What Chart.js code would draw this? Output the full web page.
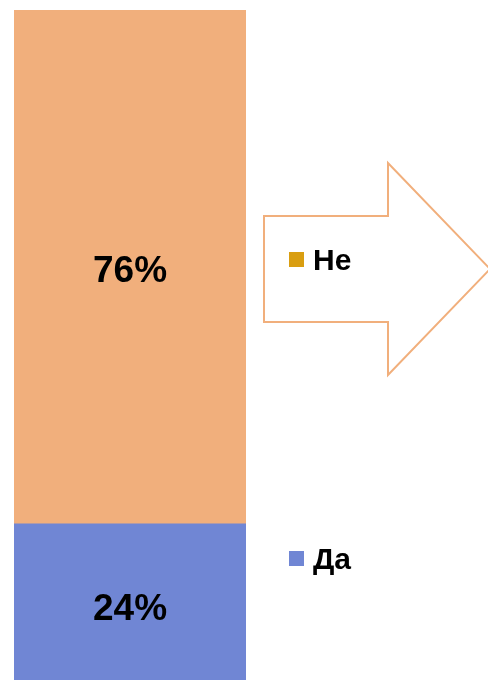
<!DOCTYPE html>
<html>
<head>
<meta charset="utf-8">
<script src="https://cdn.jsdelivr.net/npm/chart.js@4/dist/chart.umd.min.js"></script>
<style>
  html, body { margin: 0; padding: 0; background: #fff; overflow: hidden; }
  #wrap { width: 488px; height: 686px; }
</style>
</head>
<body>
<div id="wrap"><canvas id="chart" width="488" height="686"></canvas></div>
<script>
// ── Data ──
const categories = [''];
const seriesNames = ['Да', 'Не'];
const seriesValues = [[24], [76]];
const barColors = ['#7086d4', '#f1af7c'];
const legendColors = ['#7086d4', '#d99e11'];

const FONT = '"Liberation Sans", Arial, sans-serif';

/* ════════════════════════════
   ARROW + LABELS + LEGEND
════════════════════════════ */
const decorPlugin = {
  id: 'decor',
  beforeDatasetsDraw(chart) {
    const c = chart.ctx;
    // outlined arrow shape behind the legend entry
    c.save();
    c.beginPath();
    c.moveTo(264, 216);
    c.lineTo(388, 216);
    c.lineTo(388, 163);
    c.lineTo(490, 269);
    c.lineTo(388, 375);
    c.lineTo(388, 322);
    c.lineTo(264, 322);
    c.closePath();
    c.lineWidth = 2;
    c.strokeStyle = '#f1af7c';
    c.stroke();
    c.restore();
  },
  afterDatasetsDraw(chart) {
    const c = chart.ctx;
    c.save();
    // value labels in the middle of each segment
    c.font = 'bold 37px ' + FONT;
    c.fillStyle = '#000';
    c.textAlign = 'center';
    c.textBaseline = 'middle';
    chart.data.datasets.forEach((ds, i) => {
      chart.getDatasetMeta(i).data.forEach((bar, j) => {
        const p = bar.getProps(['x', 'y', 'base'], true);
        c.fillText(ds.data[j] + '%', p.x, (p.y + p.base) / 2 + 5);
      });
    });
    // legend entries
    const legendY = { 'Не': 260, 'Да': 559 };
    c.font = 'bold 30px ' + FONT;
    c.textAlign = 'left';
    seriesNames.forEach((name, i) => {
      const y = legendY[name];
      c.fillStyle = legendColors[i];
      c.fillRect(289, y - 8, 15, 15);
      c.fillStyle = '#000';
      c.fillText(name, 313, y + 2);
    });
    c.restore();
  }
};

new Chart(document.getElementById('chart'), {
  type: 'bar',
  data: {
    labels: categories,
    datasets: seriesNames.map((name, i) => ({
      label: name,
      data: seriesValues[i],
      backgroundColor: barColors[i],
      borderWidth: 0,
      barPercentage: 1,
      categoryPercentage: 1
    }))
  },
  options: {
    responsive: false,
    animation: false,
    layout: { padding: { left: 14, right: 242, top: 10, bottom: 0 } },
    plugins: {
      legend: { display: false },
      tooltip: { enabled: false }
    },
    scales: {
      x: { stacked: true, display: false },
      y: { stacked: true, display: false, min: 0, max: 100 }
    }
  },
  plugins: [decorPlugin]
});
</script>
</body>
</html>
